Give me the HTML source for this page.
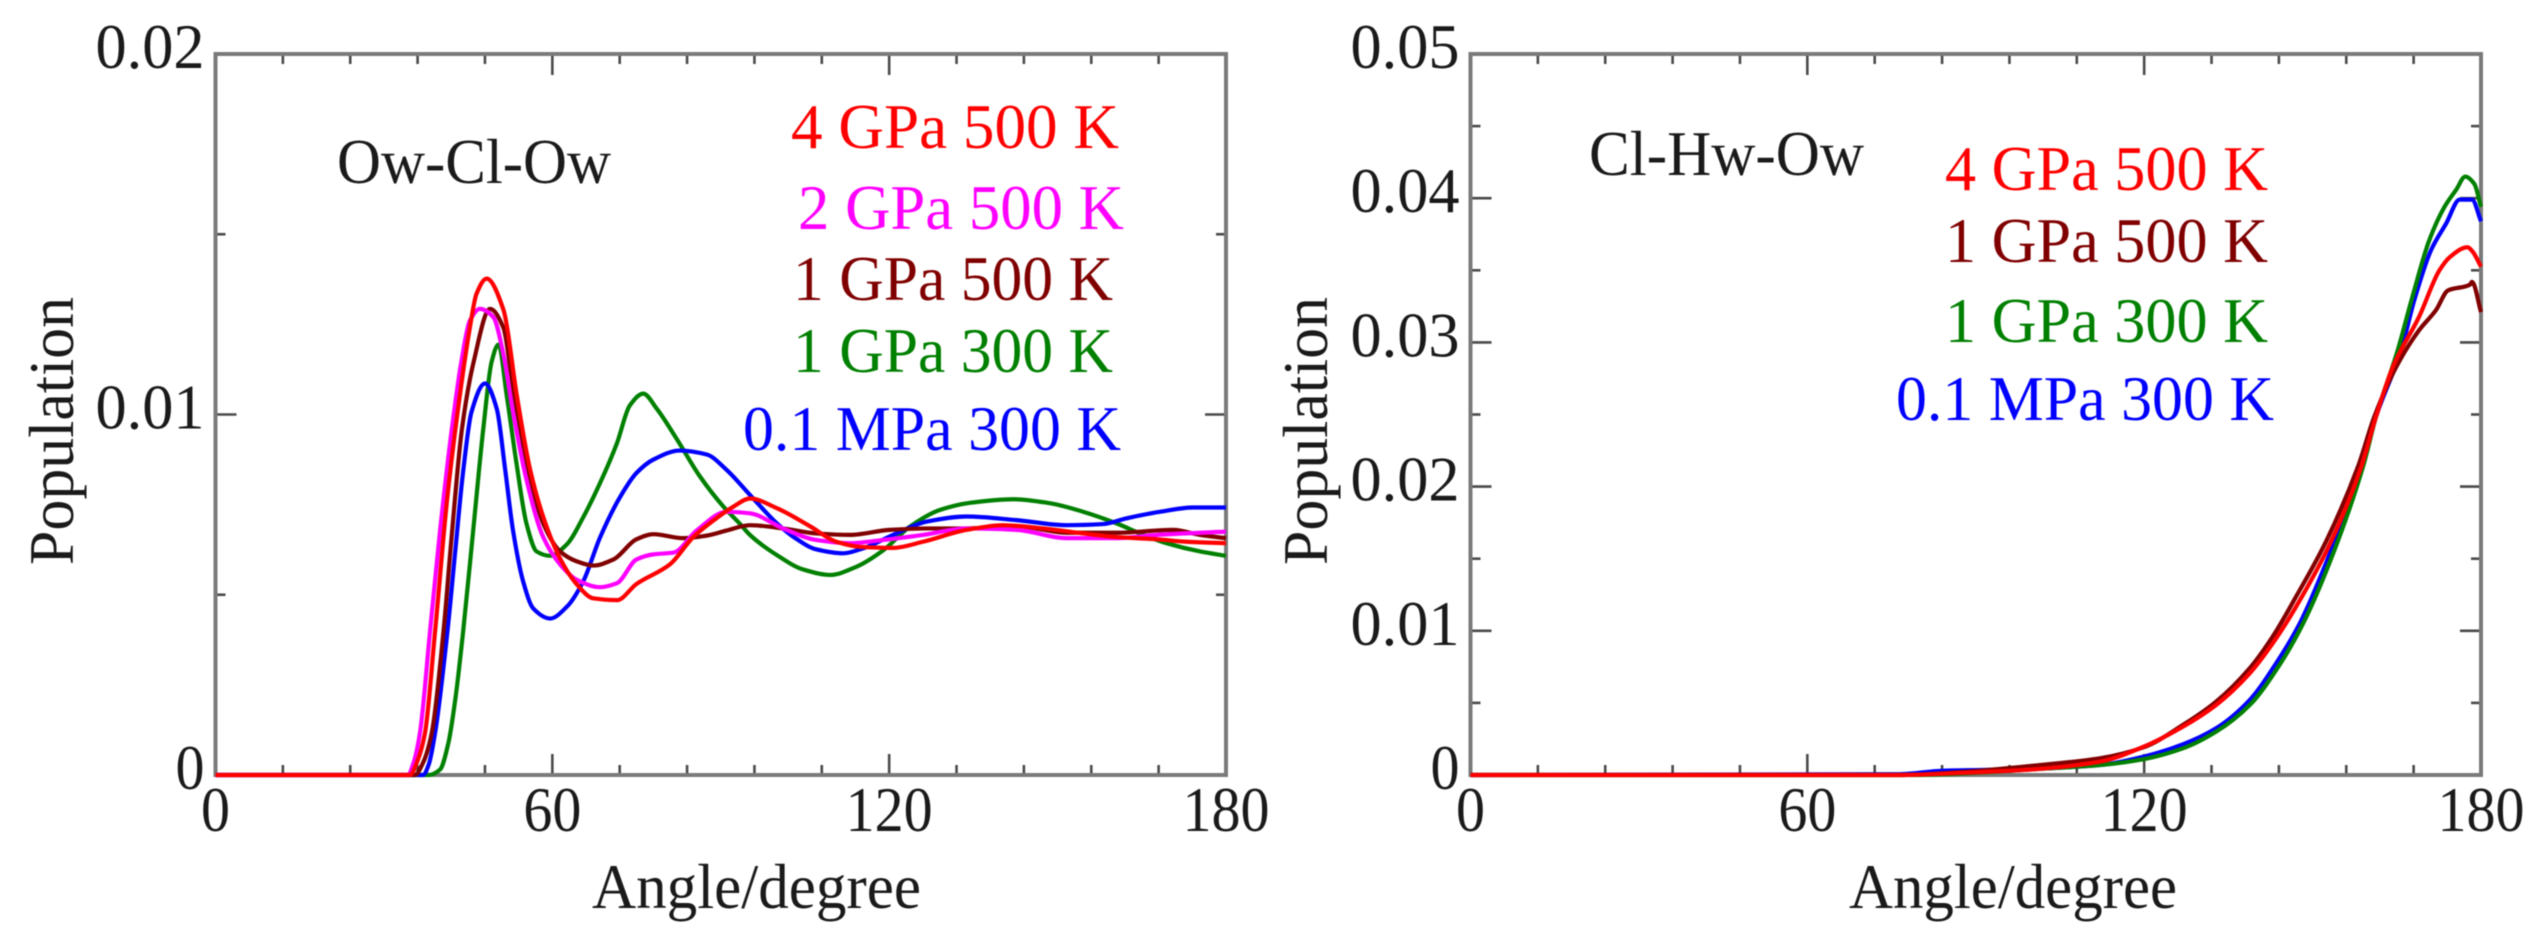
<!DOCTYPE html>
<html lang="en">
<head>
<meta charset="utf-8">
<title>Angular distributions</title>
<style>
html,body{margin:0;padding:0;background:#fff;width:2543px;height:946px;overflow:hidden}
svg{display:block;filter:blur(0.6px)}
text{font-family:"Liberation Serif",serif;font-size:64px;fill:#1a1a1a}
</style>
</head>
<body>
<svg id="figure" xmlns="http://www.w3.org/2000/svg" width="2543" height="946" viewBox="0 0 2543 946">
  <rect x="0" y="0" width="2543" height="946" fill="#fff"/>
  <g id="left-panel"></g>
  <g id="right-panel"></g>

  <text x="337" y="183" textLength="274" lengthAdjust="spacingAndGlyphs">Ow-Cl-Ow</text>
  <text x="791" y="148" textLength="328" lengthAdjust="spacingAndGlyphs" style="fill:#ff0000">4 GPa 500 K</text>
  <text x="798" y="229" textLength="326" lengthAdjust="spacingAndGlyphs" style="fill:#ff00ff">2 GPa 500 K</text>
  <text x="793" y="300" textLength="320" lengthAdjust="spacingAndGlyphs" style="fill:#800000">1 GPa 500 K</text>
  <text x="793" y="372" textLength="320" lengthAdjust="spacingAndGlyphs" style="fill:#008000">1 GPa 300 K</text>
  <text x="743" y="450" textLength="378" lengthAdjust="spacingAndGlyphs" style="fill:#0000ff">0.1 MPa 300 K</text>
  <text x="592" y="908" textLength="329" lengthAdjust="spacingAndGlyphs">Angle/degree</text>
  <text transform="translate(73 565) rotate(-90)" x="0" y="0" textLength="268" lengthAdjust="spacingAndGlyphs">Population</text>

  <text x="1589" y="175" textLength="275" lengthAdjust="spacingAndGlyphs">Cl-Hw-Ow</text>
  <text x="1945" y="190" textLength="323" lengthAdjust="spacingAndGlyphs" style="fill:#ff0000">4 GPa 500 K</text>
  <text x="1945" y="262" textLength="323" lengthAdjust="spacingAndGlyphs" style="fill:#800000">1 GPa 500 K</text>
  <text x="1945" y="342" textLength="323" lengthAdjust="spacingAndGlyphs" style="fill:#008000">1 GPa 300 K</text>
  <text x="1896" y="420" textLength="378" lengthAdjust="spacingAndGlyphs" style="fill:#0000ff">0.1 MPa 300 K</text>
  <text x="1849" y="908" textLength="328" lengthAdjust="spacingAndGlyphs">Angle/degree</text>
  <text transform="translate(1327 565) rotate(-90)" x="0" y="0" textLength="268" lengthAdjust="spacingAndGlyphs">Population</text>
</svg>
<script>
// Shared x axis
const xTickValues = [0, 60, 120, 180];
const xTickLabels = ["0", "60", "120", "180"];
const xMinorStep = 12;

// Left panel axis
const leftYTickValues = [0, 0.01, 0.02];
const leftYTickLabels = ["0", "0.01", "0.02"];
const leftYMinorStep = 0.005;

// Right panel axis
const rightYTickValues = [0, 0.01, 0.02, 0.03, 0.04, 0.05];
const rightYTickLabels = ["0", "0.01", "0.02", "0.03", "0.04", "0.05"];
const rightYMinorStep = 0.005;

// Left panel series (angle in degrees, population x 1000)
const leftGreenAngle = [0,38,40,41.5,42.7,44.1,45.9,47.7,49.2,50.4,51.9,53.6,55.4,57.2,59.6,62.6,65.5,68.5,71.5,73.8,76.2,78.6,82.2,86.3,90.5,93.4,95.2,100,104.7,109.5,114.2,119,123.7,129,134.4,142.1,148.6,154.6,160.5,165.3,169.4,175.4,180];
const leftGreenValue = [0,0,0.15,0.9,2.08,3.96,6.78,9.6,11.47,11.94,10.5,8.66,6.97,6.2,6.08,6.4,7.15,8.1,9.2,10.25,10.58,10.16,9.31,8.28,7.44,6.97,6.66,6.1,5.7,5.55,5.78,6.24,6.89,7.35,7.55,7.65,7.54,7.3,6.98,6.66,6.43,6.2,6.08];
const leftBlueAngle = [0,37,38,39.1,41.3,42.7,44.1,45.6,48,50.1,51.6,53,54.8,56.6,59.6,62.6,65.5,68.5,72.1,75,78,82.7,87.5,91,95.2,100,103,107,111.8,115.4,120.7,126.7,133.8,142.7,151.6,158.1,162.3,168.2,174.2,180];
const leftBlueValue = [0,0,0.3,1.15,3.96,6.2,8.4,10.07,10.86,10.16,8.47,6.78,5.37,4.62,4.34,4.67,5.37,6.59,7.72,8.38,8.75,9,8.89,8.47,7.77,6.98,6.6,6.26,6.15,6.29,6.66,7.03,7.17,7.07,6.93,6.96,7.12,7.3,7.42,7.42];
const leftBrownAngle = [0,35.5,37,38.5,40.6,42,43.9,46,48.9,51.3,53,55.4,58.4,61.4,64.3,67.3,70.9,75,78,83.3,87.5,91,95.2,101.1,107,113,120.1,126.7,133.8,142.7,151.6,160.5,170.6,175.4,180];
const leftBrownValue = [0,0,0.35,1.15,3.96,6.5,9.6,11.47,12.93,12.4,10.7,8.66,6.97,6.2,5.93,5.81,5.98,6.54,6.68,6.57,6.64,6.78,6.93,6.84,6.7,6.66,6.8,6.84,6.84,6.9,6.72,6.72,6.8,6.66,6.57];
const leftMagentaAngle = [0,34.3,35.3,36.4,38.2,40,42.1,43.8,45.3,47.1,49.5,51.3,53,55.4,58.4,61.4,64.3,68.5,71.5,75,78,81.6,85.7,91,95.2,101.1,107,113,119,126,133.8,142.7,151.6,160.5,167.6,180];
const leftMagentaValue = [0,0,0.35,1.15,3.96,6.78,9.6,11.47,12.6,12.93,12.7,11.66,10.07,8.19,6.59,5.84,5.42,5.21,5.32,5.98,6.12,6.17,6.78,7.3,7.26,6.84,6.52,6.43,6.52,6.66,6.84,6.8,6.57,6.57,6.66,6.75];
const leftRedAngle = [0,34.6,36,37.3,39.1,41.3,43.5,45.3,46.5,48.3,51.3,53.7,56,58.4,61.4,64.3,67.3,71.5,75,81,85.1,88.7,92.2,95.2,100,105.9,110.6,114.8,120.7,126,133.8,140.3,147.5,154.6,160.5,167.6,173,180];
const leftRedValue = [0,0,0.4,1.15,3.96,7.7,10.5,12.4,13.35,13.77,12.9,10.5,8.5,7.15,6,5.3,4.9,4.85,5.3,5.85,6.6,7.06,7.44,7.67,7.4,6.9,6.47,6.33,6.3,6.47,6.8,6.93,6.84,6.7,6.6,6.54,6.47,6.43];

// Right panel series (angle in degrees, population x 1000)
const rightBlueAngle = [0,76,84.2,97.2,112.1,119.9,126.9,132.8,138.8,143.5,147.7,152.4,158.7,161.3,165.8,168.1,171.1,173.8,176.2,178.4,180];
const rightBlueValue = [0,0.05,0.3,0.39,0.69,1.27,2.13,3.24,5.2,7.74,10.5,14.7,21.4,24.85,29.5,32.9,36.4,38.25,39.9,39.9,38.4];
const rightGreenAngle = [0,79,102,112.1,119.9,126.9,132.8,138.8,144.1,148.3,153,159,161.3,165.2,167.6,170.8,173.5,175.6,177.2,178.8,180];
const rightGreenValue = [0,0,0.44,0.69,1.1,1.85,3,4.85,7.63,10.5,14.7,21.4,24.85,29.5,32.9,37.1,39.4,40.6,41.5,41,39.4];
const rightBrownAngle = [0,76.5,88.3,101.4,112.1,119.9,126.9,132.8,138.8,142.9,147.1,152.4,158.1,161,164.9,169,172,174.1,178,178.4,180];
const rightBrownValue = [0,0,0.23,0.69,1.16,1.92,3.47,5.08,7.4,9.6,12.4,16.2,21.4,24.85,28.3,30.86,32.25,33.6,34,34.2,32.1];
const rightRedAngle = [0,76.5,88.3,100.2,112.1,119.9,126.9,132.8,138.8,142.9,147.7,153.3,158.7,161.3,164.3,169,172.6,174.4,177.6,178.5,180];
const rightRedValue = [0,0,0.16,0.39,0.92,1.96,3.35,4.85,7.05,9.13,12.1,16.2,21.4,24.85,28.3,31.8,35,35.9,36.6,36.3,35.25];

const SVGNS = "http://www.w3.org/2000/svg";

function makeScale(d0, d1, r0, r1) {
  return function (v) { return r0 + (v - d0) / (d1 - d0) * (r1 - r0); };
}

function monotonePath(px, py) {
  const n = px.length;
  const dx = [], m = [], t = [];
  for (let i = 0; i < n - 1; i++) {
    dx.push(px[i + 1] - px[i]);
    m.push((py[i + 1] - py[i]) / dx[i]);
  }
  t.push(m[0]);
  for (let i = 1; i < n - 1; i++) {
    if (m[i - 1] * m[i] <= 0) {
      t.push(0);
    } else {
      const w1 = 2 * dx[i] + dx[i - 1];
      const w2 = dx[i] + 2 * dx[i - 1];
      t.push((w1 + w2) / (w1 / m[i - 1] + w2 / m[i]));
    }
  }
  t.push(m[n - 2]);
  let d = "M" + px[0].toFixed(2) + " " + py[0].toFixed(2);
  for (let i = 0; i < n - 1; i++) {
    const h = dx[i] / 3;
    d += "C" + (px[i] + h).toFixed(2) + " " + (py[i] + t[i] * h).toFixed(2) + " " +
      (px[i + 1] - h).toFixed(2) + " " + (py[i + 1] - t[i + 1] * h).toFixed(2) + " " +
      px[i + 1].toFixed(2) + " " + py[i + 1].toFixed(2);
  }
  return d;
}

function labelWidth(s) {
  let w = 0;
  for (const c of s) { w += c === "." ? 22 : 29; }
  return w;
}

function drawTick(g, x1, y1, x2, y2) {
  const line = document.createElementNS(SVGNS, "line");
  line.setAttribute("x1", x1);
  line.setAttribute("y1", y1);
  line.setAttribute("x2", x2);
  line.setAttribute("y2", y2);
  line.setAttribute("stroke", "#4a4a4a");
  line.setAttribute("stroke-width", "2.6");
  
  
  g.appendChild(line);
}

function drawLabel(g, str, x, y, anchor) {
  const t = document.createElementNS(SVGNS, "text");
  t.setAttribute("x", x);
  t.setAttribute("y", y);
  t.setAttribute("text-anchor", anchor);
  t.setAttribute("textLength", labelWidth(str));
  t.setAttribute("lengthAdjust", "spacingAndGlyphs");
  t.textContent = str;
  
  
  g.appendChild(t);
}

function drawPanel(g, box, yMax, yTicks, yLabels, yMinor, series) {
  const sx = makeScale(0, 180, box.left, box.right);
  const sy = makeScale(0, yMax, box.bottom, box.top);
  const majorLen = 21, minorLen = 10;

  for (let v = 0; v <= 180; v += xMinorStep) {
    const major = xTickValues.indexOf(v) >= 0;
    const len = major ? majorLen : minorLen;
    drawTick(g, sx(v), box.bottom, sx(v), box.bottom - len);
    drawTick(g, sx(v), box.top, sx(v), box.top + len);
  }
  const nMinor = Math.round(yMax / yMinor);
  for (let i = 0; i <= nMinor; i++) {
    const v = i * yMinor;
    const major = yTicks.some(function (t) { return Math.abs(t - v) < 1e-9; });
    const len = major ? majorLen : minorLen;
    drawTick(g, box.left, sy(v), box.left + len, sy(v));
    drawTick(g, box.right, sy(v), box.right - len, sy(v));
  }

  const frame = document.createElementNS(SVGNS, "rect");
  frame.setAttribute("x", box.left);
  frame.setAttribute("y", box.top);
  frame.setAttribute("width", box.right - box.left);
  frame.setAttribute("height", box.bottom - box.top);
  frame.setAttribute("fill", "none");
  frame.setAttribute("stroke", "#7a7a7a");
  frame.setAttribute("stroke-width", "4");
  
  
  g.appendChild(frame);

  xTickValues.forEach(function (v, i) {
    drawLabel(g, xTickLabels[i], sx(v), 831, "middle");
  });
  yTicks.forEach(function (v, i) {
    drawLabel(g, yLabels[i], box.left - 11, sy(v) + 14, "end");
  });

  series.forEach(function (s) {
    const px = s.angle.map(sx);
    const py = s.value.map(function (v) { return sy(v / 1000); });
    const path = document.createElementNS(SVGNS, "path");
    path.setAttribute("d", monotonePath(px, py));
    path.setAttribute("fill", "none");
    path.setAttribute("stroke", s.color);
    path.setAttribute("stroke-width", "4.2");
    path.setAttribute("stroke-linejoin", "round");
    
    
    g.appendChild(path);
  });
}

drawPanel(document.getElementById("left-panel"),
  { left: 215.5, right: 1226, top: 54, bottom: 775 },
  0.02, leftYTickValues, leftYTickLabels, leftYMinorStep,
  [
    { name: "curve-1gpa-300k", color: "#008000", angle: leftGreenAngle, value: leftGreenValue },
    { name: "curve-01mpa-300k", color: "#0000ff", angle: leftBlueAngle, value: leftBlueValue },
    { name: "curve-1gpa-500k", color: "#800000", angle: leftBrownAngle, value: leftBrownValue },
    { name: "curve-2gpa-500k", color: "#ff00ff", angle: leftMagentaAngle, value: leftMagentaValue },
    { name: "curve-4gpa-500k", color: "#ff0000", angle: leftRedAngle, value: leftRedValue }
  ]);

drawPanel(document.getElementById("right-panel"),
  { left: 1470.5, right: 2481, top: 54, bottom: 775 },
  0.05, rightYTickValues, rightYTickLabels, rightYMinorStep,
  [
    { name: "curve-01mpa-300k", color: "#0000ff", angle: rightBlueAngle, value: rightBlueValue },
    { name: "curve-1gpa-300k", color: "#008000", angle: rightGreenAngle, value: rightGreenValue },
    { name: "curve-1gpa-500k", color: "#800000", angle: rightBrownAngle, value: rightBrownValue },
    { name: "curve-4gpa-500k", color: "#ff0000", angle: rightRedAngle, value: rightRedValue }
  ]);
</script>
</body>
</html>
